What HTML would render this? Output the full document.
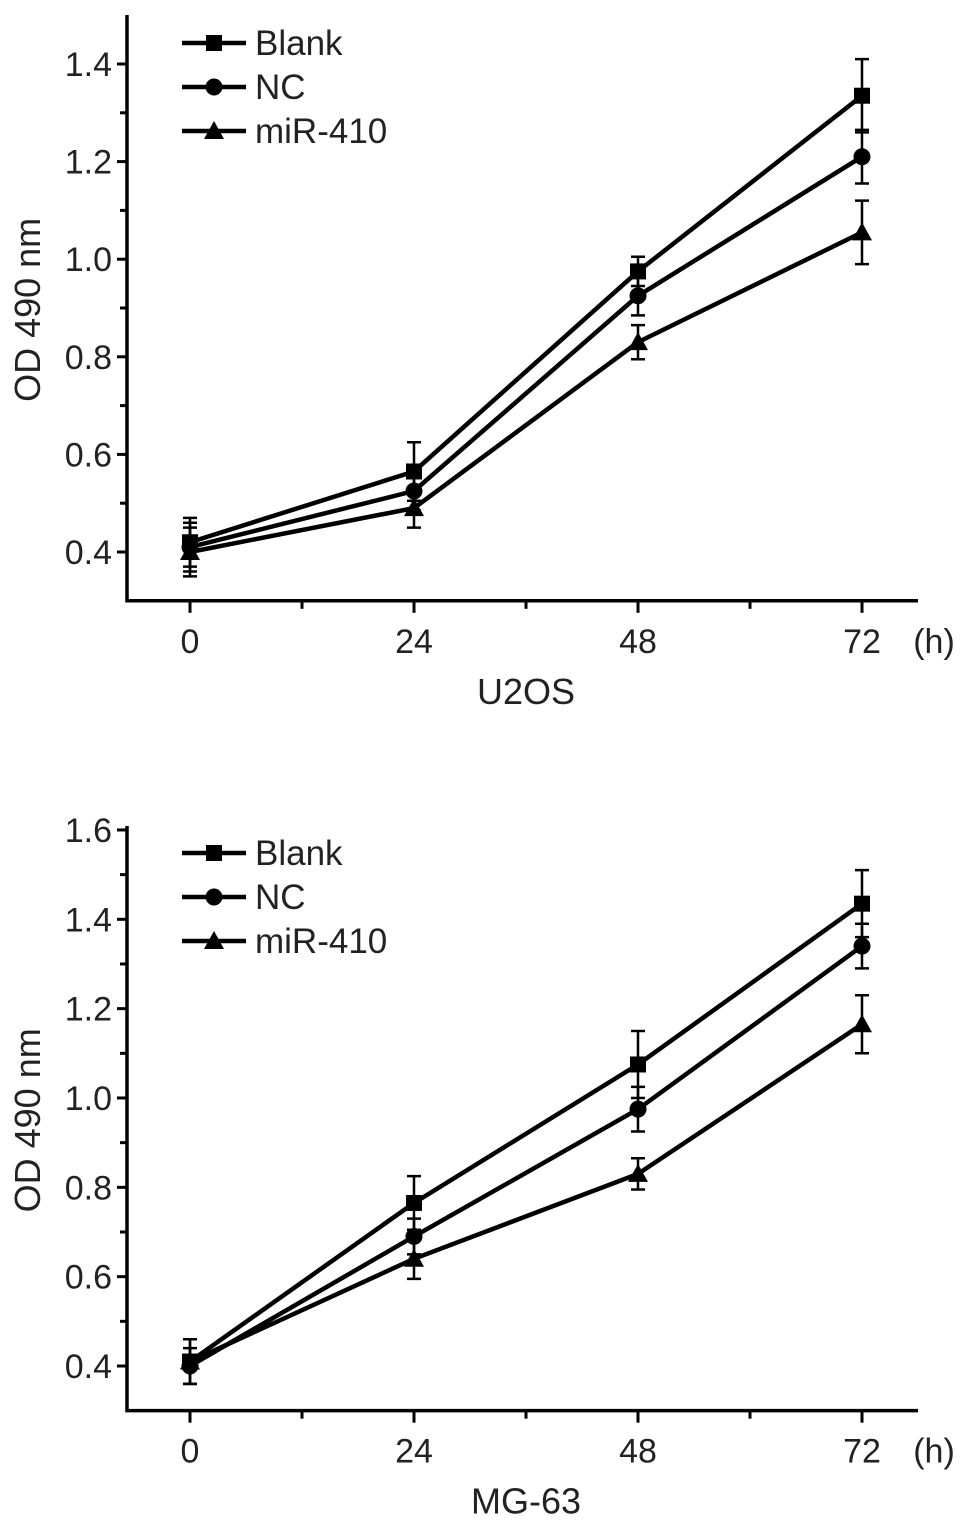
<!DOCTYPE html>
<html><head><meta charset="utf-8"><style>body{margin:0;background:#fff}svg{display:block}text{font-family:"Liberation Sans",Arial,sans-serif;fill:#222}</style></head>
<body>
<svg id="c" width="969" height="1530" viewBox="0 0 969 1530" xmlns="http://www.w3.org/2000/svg"></svg>
<script>
const times = [0, 24, 48, 72];
const xTickLabels = ["0", "24", "48", "72"];
const seriesNames = ["Blank", "NC", "miR-410"];
const u2osBlank = [0.42, 0.565, 0.975, 1.335];
const u2osBlankErr = [0.05, 0.06, 0.03, 0.075];
const u2osNC = [0.41, 0.525, 0.925, 1.21];
const u2osNCErr = [0.05, 0.04, 0.04, 0.055];
const u2osMiR = [0.40, 0.49, 0.83, 1.055];
const u2osMiRErr = [0.05, 0.04, 0.035, 0.065];
const mgBlank = [0.41, 0.765, 1.075, 1.435];
const mgBlankErr = [0.05, 0.06, 0.075, 0.075];
const mgNC = [0.40, 0.69, 0.975, 1.34];
const mgNCErr = [0.04, 0.04, 0.05, 0.05];
const mgMiR = [0.41, 0.64, 0.83, 1.165];
const mgMiRErr = [0.05, 0.045, 0.035, 0.065];
const u2osYTicks = ["0.4", "0.6", "0.8", "1.0", "1.2", "1.4"];
const mgYTicks = ["0.4", "0.6", "0.8", "1.0", "1.2", "1.4", "1.6"];

const svg = document.getElementById('c');
const NS = 'http://www.w3.org/2000/svg';
function mk(tag, attrs, parent, text) {
  const e = document.createElementNS(NS, tag);
  for (const k in attrs) e.setAttribute(k, attrs[k]);
  if (text !== undefined) e.textContent = text;
  (parent || svg).appendChild(e);
  return e;
}
function marker(g, kind, cx, cy) {
  let m;
  if (kind === 0) m = mk('rect', {x: cx - 8, y: cy - 8, width: 16, height: 16, fill: '#000'}, g);
  else if (kind === 1) m = mk('circle', {cx: cx, cy: cy, r: 8.5, fill: '#000'}, g);
  else m = mk('polygon', {points: `${cx},${cy - 10} ${cx + 10},${cy + 8} ${cx - 10},${cy + 8}`, fill: '#000'}, g);
  
  
  return m;
}
function panel(opts) {
  const g = mk('g', {});
  
  
  const x = t => 190 + (t / 72) * 672;
  const y = v => opts.y04 - (v - 0.4) * opts.pxPer;
  const xl = 127, xr = 918, yb = y(0.3), yt = opts.top;
  const ax = mk('path', {d: `M${xl},${yt} L${xl},${yb} L${xr},${yb}`, stroke: '#000', 'stroke-width': 3.5, fill: 'none'}, g);
  
  
  const vmax = parseFloat(opts.yTicks[opts.yTicks.length - 1]);
  for (let v = 0.4; v <= vmax + 0.001; v += 0.1) {
    const major = Math.abs(Math.round(v * 10) % 2) === 0;
    const t = mk('line', {x1: xl - (major ? 10 : 7), x2: xl, y1: y(v), y2: y(v), stroke: '#000', 'stroke-width': 3}, g);
    
    
  }
  opts.yTicks.forEach(s => {
    const t = mk('text', {x: 112, y: y(parseFloat(s)) + 12, 'font-size': 34, 'text-anchor': 'end'}, g, s);
    
    
  });
  for (let tt = 0; tt <= 72; tt += 12) {
    const t = mk('line', {x1: x(tt), x2: x(tt), y1: yb, y2: yb + (tt % 24 === 0 ? 12 : 8), stroke: '#000', 'stroke-width': 3}, g);
    
    
  }
  xTickLabels.forEach((s, i) => {
    const t = mk('text', {x: x(times[i]), y: yb + 52, 'font-size': 34, 'text-anchor': 'middle'}, g, s);
    
    
  });
  const hu = mk('text', {x: 934, y: yb + 52, 'font-size': 34, 'text-anchor': 'middle'}, g, '(h)');
  
  
  const xt = mk('text', {x: 526, y: yb + 103, 'font-size': 36, 'text-anchor': 'middle'}, g, opts.title);
  
  
  const ymid = (yt + yb) / 2 + 2;
  const yl = mk('text', {x: 40, y: ymid, 'font-size': 36, 'text-anchor': 'middle', transform: `rotate(-90 40 ${ymid})`}, g, 'OD 490 nm');
  
  
  opts.series.forEach((s, k) => {
    const sg = mk('g', {}, g);
    
    
    s.vals.forEach((v, i) => {
      const e = s.err[i], cx = x(times[i]);
      const eb = mk('path', {d: `M${cx},${y(v + e)} L${cx},${y(v - e)} M${cx - 7},${y(v + e)} L${cx + 7},${y(v + e)} M${cx - 7},${y(v - e)} L${cx + 7},${y(v - e)}`, stroke: '#000', 'stroke-width': 2.5, fill: 'none'}, sg);
      
      
    });
    const ln = mk('polyline', {points: s.vals.map((v, i) => x(times[i]) + ',' + y(v)).join(' '), stroke: '#000', 'stroke-width': 4.5, fill: 'none'}, sg);
    
    
    s.vals.forEach((v, i) => marker(sg, k, x(times[i]), y(v)));
  });
  seriesNames.forEach((n, k) => {
    const ly = opts.legY + k * 44;
    const lg = mk('g', {}, g);
    
    
    mk('line', {x1: 182, x2: 246, y1: ly, y2: ly, stroke: '#000', 'stroke-width': 4.5}, lg);
    marker(lg, k, 214, ly);
    mk('text', {x: 255, y: ly + 12, 'font-size': 35}, lg, n);
  });
}
panel({name: 'u2os-chart', title: 'U2OS', y04: 552, pxPer: 488, top: 15, yTicks: u2osYTicks, legY: 43,
  series: [{vals: u2osBlank, err: u2osBlankErr}, {vals: u2osNC, err: u2osNCErr}, {vals: u2osMiR, err: u2osMiRErr}]});
panel({name: 'mg63-chart', title: 'MG-63', y04: 1366, pxPer: 446.7, top: 826, yTicks: mgYTicks, legY: 853,
  series: [{vals: mgBlank, err: mgBlankErr}, {vals: mgNC, err: mgNCErr}, {vals: mgMiR, err: mgMiRErr}]});
</script>
</body></html>
